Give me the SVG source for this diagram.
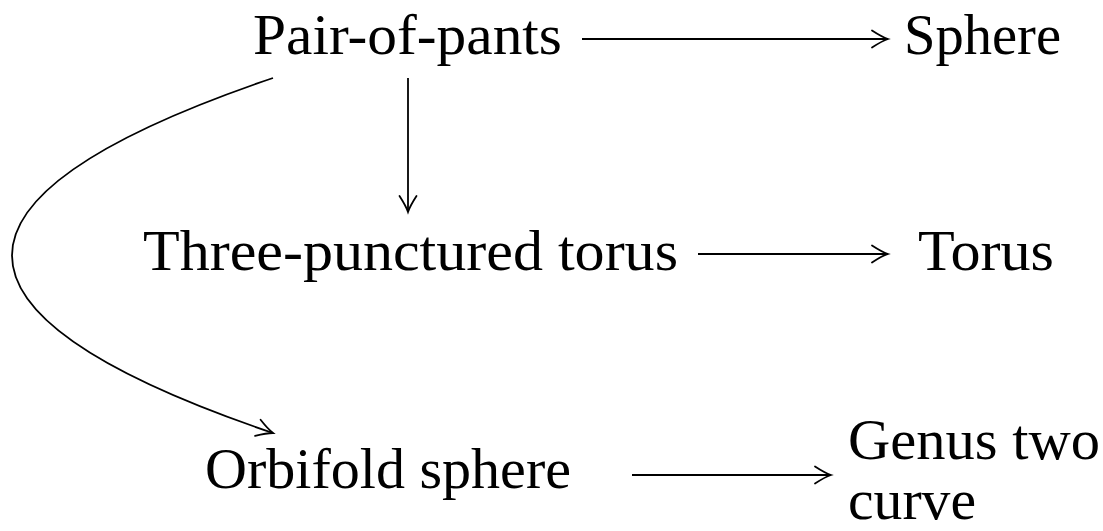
<svg xmlns="http://www.w3.org/2000/svg" width="1103" height="531" viewBox="0 0 1103 531">
<style>
  text { font-family: "Liberation Serif", "Times New Roman", serif; font-size: 56px; fill: #000; }
  .edge { fill: none; stroke: #000; stroke-width: 1.8; marker-end: url(#to); }
</style>
<defs>
  <marker id="to" markerUnits="userSpaceOnUse" orient="auto" refX="0" refY="0" markerWidth="24" markerHeight="24" overflow="visible">
    <path d="M -16,-8.5 Q -6,-2 0,0 Q -6,2 -16,8.5" fill="none" stroke="#000" stroke-width="1.8" stroke-linecap="round"/>
  </marker>
</defs>
<rect width="1103" height="531" fill="#fff"/>
<g id="pants"><text x="253" y="54" textLength="309" lengthAdjust="spacingAndGlyphs">Pair-of-pants</text></g>
<g id="sphere"><text x="904" y="54" textLength="157" lengthAdjust="spacingAndGlyphs">Sphere</text></g>
<g id="three-punctured"><text x="143" y="270" textLength="535" lengthAdjust="spacingAndGlyphs">Three-punctured torus</text></g>
<g id="torus"><text x="918" y="270" textLength="136" lengthAdjust="spacingAndGlyphs">Torus</text></g>
<g id="orbifold"><text x="205" y="488" textLength="366" lengthAdjust="spacingAndGlyphs">Orbifold sphere</text></g>
<g id="genus-two"><text x="848" y="459" textLength="252" lengthAdjust="spacingAndGlyphs">Genus two</text><text x="848" y="519" textLength="128" lengthAdjust="spacingAndGlyphs">curve</text></g>
<g id="connectors">
  <path class="edge" d="M 582,39 L 888,39"/>
  <path class="edge" d="M 408,78 L 408,212"/>
  <path class="edge" d="M 698,254 L 888,254"/>
  <path class="edge" d="M 632,475 L 831,475"/>
  <path class="edge" d="M 273,78 C -75,196 -75,315 273,433"/>
</g>
</svg>
